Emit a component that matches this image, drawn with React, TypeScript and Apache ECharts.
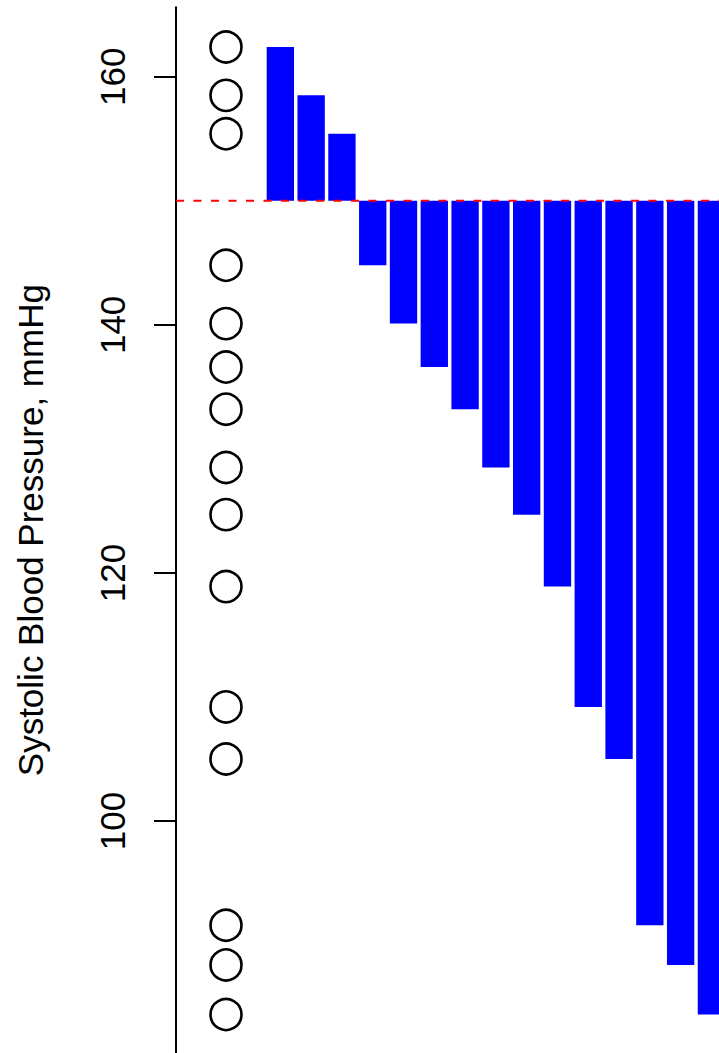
import React, { useEffect, useRef } from "react";
import * as echarts from "echarts";

// Systolic blood pressure readings (mmHg), sorted from highest to lowest.
const systolicBP = [162.4, 158.5, 155.4, 144.8, 140.1, 136.6, 133.2, 128.5, 124.7, 118.9, 109.2, 105.0, 91.6, 88.4, 84.4];
// Reference threshold the bars hang from.
const referenceBP = 150;
// Labelled ticks on the pressure axis.
const pressureTicks = [100, 120, 140, 160];

// Layout constants (x is measured in bar slots).
const dotColumnX = -0.765;
const xMin = -2.389;
const xMax = 15.246;
const yMin = 81.3;
const yMax = 165.6;
const barHalfWidth = 0.444;
const FONT = "'Liberation Sans', Arial, Helvetica, sans-serif";

export default function App() {
  const ref = useRef<HTMLDivElement>(null);

  useEffect(() => {
    if (!ref.current) return;
    const chart = echarts.init(ref.current, undefined, { renderer: "svg" });

    const barData = systolicBP.map((v, i) => [i + 1, v]);
    const dotData = systolicBP.map((v) => [dotColumnX, v]);

    chart.setOption({
      animation: false,
      backgroundColor: "#ffffff",
      textStyle: { fontFamily: FONT },
      grid: { left: 176, right: 0, top: 7.3, bottom: -3.3, containLabel: false },
      xAxis: {
        type: "value",
        min: xMin,
        max: xMax,
        show: false,
      },
      yAxis: {
        type: "value",
        min: yMin,
        max: yMax,
        name: "Systolic Blood Pressure, mmHg",
        nameLocation: "middle",
        nameRotate: 90,
        nameGap: 128,
        nameTextStyle: { fontSize: 35, color: "#000", fontFamily: FONT },
        axisLine: { show: true, onZero: false, lineStyle: { color: "#000", width: 2 } },
        axisTick: {
          show: true,
          length: 22,
          customValues: pressureTicks,
          lineStyle: { color: "#000", width: 2 },
        },
        axisLabel: {
          show: true,
          customValues: pressureTicks,
          rotate: 90,
          margin: 46,
          fontSize: 35,
          color: "#000",
          fontFamily: FONT,
        },
        splitLine: { show: false },
      },
      series: [
        {
          type: "custom",
          silent: true,
          z: 2,
          data: barData,
          renderItem: (params: any, api: any) => {
            const x = api.value(0);
            const v = api.value(1);
            const p0 = api.coord([x - barHalfWidth, referenceBP]);
            const p1 = api.coord([x + barHalfWidth, v]);
            return {
              type: "rect",
              shape: {
                x: p0[0],
                y: Math.min(p0[1], p1[1]),
                width: p1[0] - p0[0],
                height: Math.abs(p1[1] - p0[1]),
              },
              style: { fill: "#0000ff" },
            };
          },
        },
        {
          type: "scatter",
          silent: true,
          z: 3,
          data: dotData,
          symbol: "circle",
          symbolSize: 31,
          itemStyle: { color: "rgba(0,0,0,0)", borderColor: "#000", borderWidth: 2.6, opacity: 1 },
          emphasis: { disabled: true },
        },
        {
          type: "line",
          silent: true,
          z: 5,
          data: [
            [xMin, referenceBP],
            [xMax, referenceBP],
          ],
          symbol: "none",
          lineStyle: { color: "#ff0000", width: 2, type: [8, 9.5] },
        },
      ],
    });

    return () => chart.dispose();
  }, []);

  return (
    <div
      ref={ref}
      style={{ position: "absolute", left: 0, top: 0, width: 719, height: 1053, background: "#fff" }}
    />
  );
}
